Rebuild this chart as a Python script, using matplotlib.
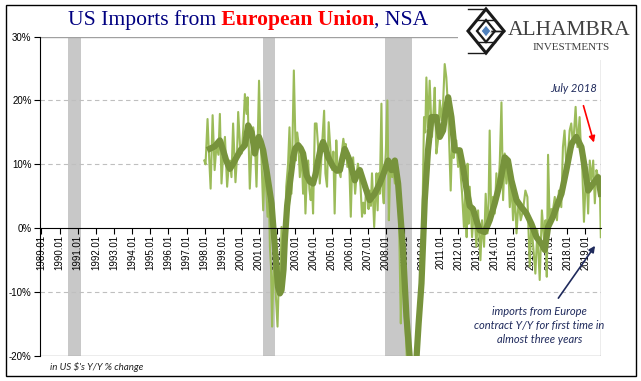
import matplotlib
matplotlib.use("Agg")
import matplotlib.pyplot as plt
from matplotlib.patches import Rectangle, Polygon

# recessions (decimal years)
rec_start = [1990.45, 2001.2, 2007.92]
rec_end = [1991.2, 2001.9, 2009.46]

# monthly Y/Y % change (decimal year, value) - thin line
thin_x = [1997.98, 1998.05, 1998.16, 1998.25, 1998.33, 1998.44, 1998.55, 1998.66, 1998.76, 1998.84,
          1998.93, 1999.03, 1999.12, 1999.24, 1999.32, 1999.39, 1999.48, 1999.57, 1999.70, 1999.78,
          1999.85, 1999.95, 2000.04, 2000.13, 2000.22, 2000.31, 2000.37, 2000.49, 2000.58, 2000.68,
          2000.77, 2000.86, 2000.93, 2001.00, 2001.07, 2001.14, 2001.23, 2001.32, 2001.40, 2001.47,
          2001.55, 2001.60, 2001.66, 2001.72, 2001.78, 2001.84, 2001.92, 2002.02, 2002.11, 2002.18,
          2002.24, 2002.33, 2002.42, 2002.50, 2002.60, 2002.68, 2002.79, 2002.92, 2003.03, 2003.10,
          2003.16, 2003.25, 2003.34, 2003.43, 2003.50, 2003.56, 2003.63, 2003.71, 2003.78, 2003.85,
          2003.92, 2003.98, 2004.08, 2004.17, 2004.26, 2004.35, 2004.42, 2004.48, 2004.59, 2004.66,
          2004.75, 2004.84, 2004.95, 2005.04, 2005.10, 2005.17, 2005.26, 2005.32, 2005.39, 2005.50,
          2005.57, 2005.65, 2005.72, 2005.78, 2005.87, 2005.96, 2006.06, 2006.12, 2006.19, 2006.30,
          2006.37, 2006.45, 2006.52, 2006.60, 2006.68, 2006.75, 2006.83, 2006.90, 2006.98, 2007.04,
          2007.10, 2007.17, 2007.23, 2007.35, 2007.42, 2007.48, 2007.54, 2007.60, 2007.66, 2007.75,
          2007.81, 2007.88, 2007.94, 2007.99, 2008.08, 2008.16, 2008.22, 2008.27, 2008.34, 2008.40,
          2008.49, 2008.58, 2008.65, 2008.71, 2008.82, 2008.88, 2008.94, 2009.02, 2009.13, 2009.20,
          2009.30, 2009.40, 2009.50, 2009.60, 2009.70, 2009.78, 2009.87, 2009.96, 2010.03, 2010.10,
          2010.17, 2010.23, 2010.32, 2010.41, 2010.48, 2010.54, 2010.62, 2010.69, 2010.78, 2010.87,
          2010.97, 2011.06, 2011.15, 2011.24, 2011.33, 2011.40, 2011.46, 2011.57, 2011.66, 2011.73,
          2011.79, 2011.88, 2011.98, 2012.07, 2012.13, 2012.20, 2012.30, 2012.38, 2012.45, 2012.50,
          2012.56, 2012.62, 2012.75, 2012.86, 2012.99, 2013.08, 2013.21, 2013.30, 2013.41, 2013.50,
          2013.60, 2013.66, 2013.72, 2013.81, 2013.90, 2014.00, 2014.09, 2014.18, 2014.28, 2014.37,
          2014.46, 2014.55, 2014.64, 2014.73, 2014.83, 2014.92, 2015.01, 2015.10, 2015.20, 2015.32,
          2015.43, 2015.56, 2015.69, 2015.80, 2015.93, 2016.02, 2016.11, 2016.24, 2016.35, 2016.48,
          2016.60, 2016.72, 2016.80, 2016.87, 2016.94, 2017.03, 2017.12, 2017.21, 2017.31, 2017.43,
          2017.54, 2017.67, 2017.76, 2017.85, 2017.95, 2018.04, 2018.13, 2018.22, 2018.32, 2018.46,
          2018.56, 2018.68, 2018.76, 2018.83, 2018.92, 2019.05, 2019.15, 2019.24, 2019.33, 2019.43,
          2019.52, 2019.61, 2019.70, 2019.79, 2019.85]
thin_y = [10.6, 10.0, 17.1, 11.0, 6.2, 17.7, 9.1, 13.2, 11.5, 17.9,
          7.0, 12.0, 14.3, 6.5, 9.5, 10.6, 8.0, 16.4, 7.2, 11.0,
          18.2, 13.0, 11.7, 15.5, 21.0, 17.9, 20.5, 6.2, 12.0, 15.8,
          13.75, 6.5, 14.0, 23.1, 14.0, 10.6, 2.8, 10.6, 6.0, 1.8,
          4.4, -2.9, -6.0, -15.4, -8.0, -5.0, -10.2, -15.4, -6.0, -8.0,
          0.2, -5.0, -2.9, 6.5, 10.0, 15.8, 5.4, 24.7, 10.6, 15.0,
          13.75, 8.0, 12.7, 5.4, 9.0, 2.3, 8.0, 10.6, 6.0, 4.4,
          7.0, 2.3, 16.4, 16.4, 12.7, 7.0, 10.0, 13.2, 18.4, 8.6,
          6.5, 16.6, 11.7, 9.1, 12.0, 2.3, 13.75, 10.0, 9.1, 8.0,
          12.0, 14.0, 12.5, 13.2, 9.6, 11.7, 1.8, 8.0, 11.1, 5.4,
          8.0, 10.1, 9.0, 6.5, 1.8, 4.0, 2.3, 6.0, 5.4, 3.0,
          5.9, 3.5, 8.6, 0.2, 5.0, 8.6, 2.8, 8.6, 5.4, 19.5,
          6.0, 3.9, 9.0, 11.7, 20.0, 1.25, 8.0, 10.6, 8.0, 9.6,
          7.0, 10.6, 6.0, 3.3, -14.9, -6.0, -3.4, -12.0, -19.0, -24.0,
          -28.0, -30.0, -28.0, -26.0, -22.0, -19.5, -14.0, -8.6, 5.0, 17.4,
          15.0, 23.6, 15.8, 23.1, 18.0, 14.3, 18.0, 22.0, 11.7, 13.75,
          20.0, 16.9, 19.5, 25.7, 23.6, 20.0, 15.8, 5.9, 14.8, 11.0,
          12.2, 13.75, 9.6, 11.1, 8.0, 5.4, 0.2, 5.9, -1.4, 10.1,
          0.7, 6.5, -1.4, 3.3, -2.9, 2.8, -5.0, 1.25, -2.9, 5.4,
          -0.8, 4.0, 15.3, 1.25, 4.9, 2.3, 8.6, 4.9, 10.6, 19.7,
          4.4, 11.7, 7.0, 10.6, 3.3, 7.5, 1.25, 5.9, -0.8, 4.4,
          1.25, 2.8, 5.9, 4.9, -6.0, 0.7, -2.4, -7.1, -0.3, -8.1,
          2.8, -1.9, 1.25, -7.6, 11.5, 1.0, 3.0, 2.8, 4.9, 1.25,
          5.9, 3.3, 12.7, 15.3, 9.6, 11.7, 15.3, 16.4, 12.7, 19.0,
          12.7, 17.4, 12.0, 9.1, 1.0, 9.6, 2.3, 10.6, 7.5, 10.6,
          3.9, 9.1, 8.0, 7.0, -1.4]

# smoothed series - thick line
ma_x = [1998.29, 1998.55, 1998.84, 1999.02, 1999.20, 1999.39, 1999.55, 1999.76, 2000.00, 2000.22,
        2000.40, 2000.59, 2000.77, 2000.90, 2000.99, 2001.10, 2001.23, 2001.41, 2001.55, 2001.69,
        2001.87, 2002.05, 2002.15, 2002.24, 2002.35, 2002.42, 2002.55, 2002.70, 2002.88, 2003.00,
        2003.16, 2003.30, 2003.43, 2003.62, 2003.80, 2003.98, 2004.12, 2004.26, 2004.40, 2004.53,
        2004.67, 2004.81, 2005.09, 2005.30, 2005.46, 2005.60, 2005.73, 2006.00, 2006.14, 2006.28,
        2006.42, 2006.56, 2006.74, 2006.92, 2007.10, 2007.38, 2007.66, 2007.94, 2008.12, 2008.30,
        2008.49, 2008.67, 2008.80, 2008.94, 2009.13, 2009.31, 2009.45, 2009.55, 2009.68, 2009.80,
        2009.96, 2010.14, 2010.32, 2010.51, 2010.78, 2010.97, 2011.15, 2011.30, 2011.43, 2011.61,
        2011.79, 2012.07, 2012.25, 2012.45, 2012.62, 2012.80, 2012.99, 2013.17, 2013.45, 2013.72,
        2014.00, 2014.28, 2014.45, 2014.55, 2014.73, 2014.92, 2015.20, 2015.47, 2015.75, 2016.02,
        2016.30, 2016.57, 2016.76, 2016.94, 2017.21, 2017.40, 2017.68, 2017.95, 2018.23, 2018.50,
        2018.78, 2018.96, 2019.15, 2019.43, 2019.70, 2019.85]
ma_y = [12.45, 12.8, 13.75, 12.2, 10.5, 9.3, 10.0, 11.1, 12.3, 13.0,
        16.1, 15.0, 11.7, 13.5, 14.3, 13.5, 12.2, 9.1, 6.5, 3.9,
        -2.9, -9.2, -10.2, -9.7, -6.5, -2.0, 3.5, 7.0, 11.1, 12.5,
        13.0, 12.5, 11.7, 8.3, 7.3, 7.0, 8.5, 10.6, 12.5, 13.5,
        12.5, 11.1, 9.6, 9.0, 9.1, 11.0, 12.4, 10.6, 9.0, 7.5,
        8.5, 9.1, 7.5, 5.9, 4.4, 5.4, 7.0, 9.1, 10.6, 9.1,
        10.6, 7.0, 2.0, -3.4, -13.9, -20.1, -24.0, -24.0, -20.5, -15.0,
        -8.6, 4.4, 12.2, 17.4, 17.4, 14.3, 15.3, 18.5, 20.5, 17.4,
        12.2, 12.2, 9.6, 6.0, 3.5, 3.0, 1.25, -0.3, -0.6, 1.25,
        3.9, 7.0, 9.5, 11.1, 10.6, 7.5, 4.4, 3.3, 2.3, 0.7,
        -1.4, -2.4, -3.4, 0.2, 1.8, 3.3, 5.4, 9.1, 13.2, 14.3,
        12.7, 9.6, 5.9, 7.0, 8.0, 5.4]

years = list(range(1989, 2020))
year_labels = [f"{y}.01" for y in years]
y_ticks = [-20, -10, 0, 10, 20, 30]
y_labels = [f"{v}%" for v in y_ticks]

W, H = 641, 381
fig = plt.figure(figsize=(W / 100, H / 100), dpi=100)
ax = fig.add_axes([40 / W, 1 - 356 / H, 561 / W, 319.4 / H])

ax.set_xlim(1988.92, 2019.86)
ax.set_ylim(-20, 30)

for s, e in zip(rec_start, rec_end):
    ax.axvspan(s, e, color="#C8C8C8", lw=0, zorder=0.5)

for v in [20, 10, -10]:
    ax.axhline(v, color="#BFBFBF", lw=0.8, ls=(0, (4, 3)), zorder=0.6)
ax.axhline(30, color="#A0A0A0", lw=1.0, zorder=0.6)
ax.axhline(-20, color="#A0A0A0", lw=1.0, zorder=0.6)
ax.axvline(2019.86, color="#A0A0A0", lw=1.0, zorder=0.6)

ax.plot(thin_x, thin_y, color="#9BBB59", lw=1.5, zorder=2)
ax.plot(ma_x, ma_y, color="#77933C", lw=4.5, zorder=2.1, solid_joinstyle="round")

for sp in ["top", "right"]:
    ax.spines[sp].set_visible(False)
ax.spines["bottom"].set_position(("data", 0))
ax.spines["bottom"].set_color("black")
ax.spines["left"].set_color("black")

ax.set_xticks(years)
ax.set_xticklabels(year_labels, rotation=90, fontsize=7, family="Liberation Sans", va="top")
ax.tick_params(axis="x", direction="out", length=4, width=0.8, pad=1)
ax.set_yticks(y_ticks)
ax.set_yticklabels(y_labels, fontsize=7, family="Liberation Sans")
ax.tick_params(axis="y", direction="out", length=4, width=0.8, pad=2)

navy = "#1F2A5C"
ax.text(2018.35, 21.0, "July 2018", fontsize=8, style="italic", family="Lato",
        color=navy, ha="center", va="bottom")
ax.annotate("", xy=(2019.51, 13.0), xytext=(2018.85, 19.6),
            arrowprops=dict(arrowstyle="-|>", color="red", lw=1.2, mutation_scale=9))
ax.annotate("", xy=(2019.62, -2.4), xytext=(2017.42, -11.3),
            arrowprops=dict(arrowstyle="-|>", color=navy, lw=1.2, mutation_scale=9))
note = "imports from Europe\ncontract Y/Y for first time in\nalmost three years"
ax.text(2016.47, -12.2, note, fontsize=8, style="italic", family="Lato", color=navy,
        ha="center", va="top", linespacing=1.35)

fig.text(50 / W, 1 - 367 / H, "in US $'s Y/Y % change", fontsize=7, style="italic",
         family="Lato", color="#222222", va="center")

# title in three colours
renderer = fig.canvas.get_renderer()
tx = 68 / W
for part, col, wt in [("US Imports from", "#000080", "normal"),
                      (" European Union", "#FF0000", "bold"),
                      (", NSA", "#000080", "normal")]:
    t = fig.text(tx, 1 - 25 / H, part, color=col, fontweight=wt, fontsize=15.6,
                 family="Liberation Serif", va="baseline")
    tx = t.get_window_extent(renderer).x1 / W

# logo
lax = fig.add_axes([458 / W, 1 - 60 / H, 178 / W, 54 / H], zorder=5)
lax.set_xlim(0, 178)
lax.set_ylim(0, 54)
lax.set_facecolor("white")
for sp in lax.spines.values():
    sp.set_visible(False)
lax.set_xticks([])
lax.set_yticks([])
cx, cy, hw, hh = 28, 29, 18, 22
lax.add_patch(Polygon([(cx - hw, cy), (cx, cy + hh), (cx + hw, cy), (cx, cy - hh)],
                      closed=True, fc="white", ec="#1A1A1A", lw=2.2))
for k in [-0.5, 0.0, 0.5]:
    # lattice lines parallel to the diamond edges
    lax.plot([cx - hw / 2 + k * hw, cx + hw / 2 + k * hw],
             [cy - hh / 2 - k * hh + hh, cy + hh / 2 - k * hh], color="#1A1A1A", lw=1.0)
    lax.plot([cx - hw / 2 + k * hw, cx + hw / 2 + k * hw],
             [cy + hh / 2 + k * hh - hh, cy - hh / 2 + k * hh], color="#1A1A1A", lw=1.0)
lax.add_patch(Polygon([(cx - hw / 2, cy), (cx, cy + hh / 2), (cx + hw / 2, cy), (cx, cy - hh / 2)],
                      closed=True, fc="none", ec="#1A1A1A", lw=1.6))
lax.add_patch(Polygon([(cx - 5, cy), (cx, cy + 6), (cx + 5, cy), (cx, cy - 6)],
                      closed=True, fc="#4F81BD", ec="white", lw=0.8, zorder=3))
lax.text(50, 25, "ALHAMBRA", fontsize=15.5, family="Liberation Serif", color="#404040",
         va="baseline")
lax.text(75, 10, "INVESTMENTS", fontsize=8, family="Liberation Serif", color="#404040",
         va="baseline")

fig.add_artist(Rectangle((6 / W, 5 / H), 630 / W, 371 / H, transform=fig.transFigure,
                         fill=False, ec="black", lw=1.0, zorder=10))

fig.savefig("out.png", dpi=100)
